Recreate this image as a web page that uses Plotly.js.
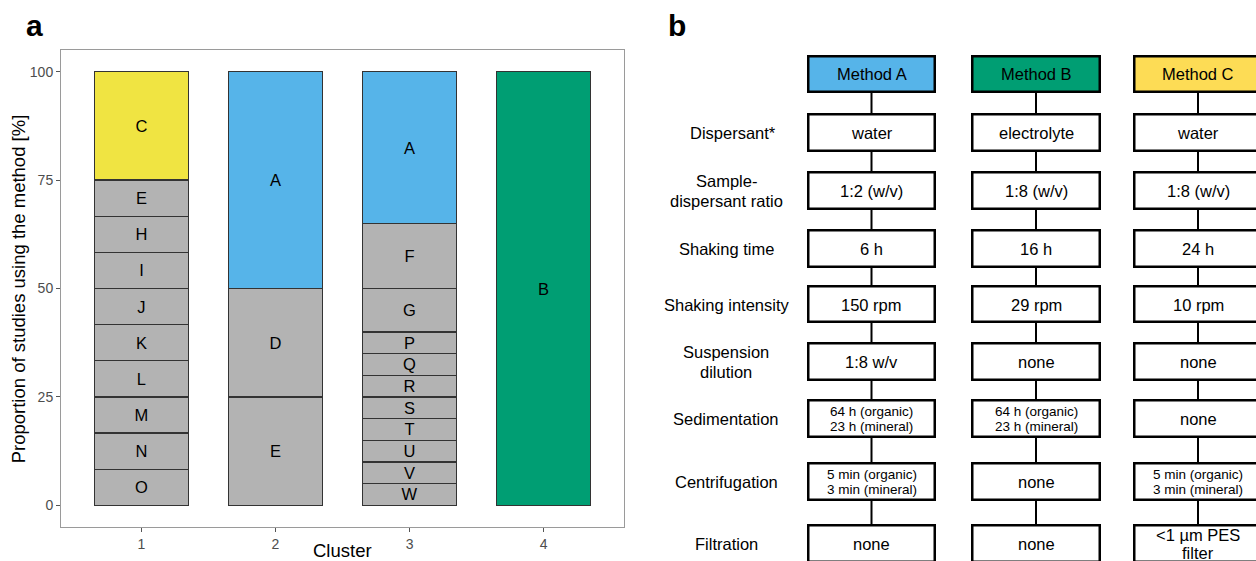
<!DOCTYPE html>
<html>
<head>
<meta charset="utf-8">
<script src="https://cdn.plot.ly/plotly-3.0.1.min.js"></script>
<style>html,body{margin:0;padding:0;background:#fff;}#chart{width:1256px;height:561px;}</style>
</head>
<body>
<div id="chart"></div>
<script>
// ---------- Panel a data ----------
const clusterIds = [1, 2, 3, 4];
const yTickValues = [0, 25, 50, 75, 100];
const xAxisTitle = 'Cluster';
const yAxisTitle = 'Proportion of studies using the method [%]';
// stacked from bottom to top
const cluster1Methods = ['O', 'N', 'M', 'L', 'K', 'J', 'I', 'H', 'E', 'C'];
const cluster1Shares  = [8.333, 8.333, 8.333, 8.333, 8.333, 8.333, 8.333, 8.333, 8.333, 25];
const cluster2Methods = ['E', 'D', 'A'];
const cluster2Shares  = [25, 25, 50];
const cluster3Methods = ['W', 'V', 'U', 'T', 'S', 'R', 'Q', 'P', 'G', 'F', 'A'];
const cluster3Shares  = [5, 5, 5, 5, 5, 5, 5, 5, 10, 15, 35];
const cluster4Methods = ['B'];
const cluster4Shares  = [100];

// ---------- Panel b data ----------
const methodNames = ['Method A', 'Method B', 'Method C'];
const stepLabels = ['Dispersant*', 'Sample-<br>dispersant ratio', 'Shaking time', 'Shaking intensity',
                    'Suspension<br>dilution', 'Sedimentation', 'Centrifugation', 'Filtration'];
const methodASteps = ['water', '1:2 (w/v)', '6 h', '150 rpm', '1:8 w/v',
                      '64 h (organic)<br>23 h (mineral)', '5 min (organic)<br>3 min (mineral)', 'none'];
const methodBSteps = ['electrolyte', '1:8 (w/v)', '16 h', '29 rpm', 'none',
                      '64 h (organic)<br>23 h (mineral)', 'none', 'none'];
const methodCSteps = ['water', '1:8 (w/v)', '24 h', '10 rpm', 'none', 'none',
                      '5 min (organic)<br>3 min (mineral)', '<1 µm PES<br>filter'];

// ---------- styles ----------
const FONT = 'Liberation Sans, Arial, sans-serif';
const barColors = {A: '#56B4E9', B: '#009E73', C: '#F0E442'};
const headerColors = ['#56B4E9', '#009E73', '#FDDC55'];
const otherColor = '#B3B3B3';
function colorFor(m) { return barColors[m] || otherColor; }

// plot area in pixels
const L = 61, T = 50, W = 563, H = 477;
const FW = 1256, FH = 561;
const px2x = px => (px - L) / W;
const py2y = py => (T + H - py) / H;

// ---------- bar traces ----------
const clusterSets = [
  [clusterIds[0], cluster1Methods, cluster1Shares],
  [clusterIds[1], cluster2Methods, cluster2Shares],
  [clusterIds[2], cluster3Methods, cluster3Shares],
  [clusterIds[3], cluster4Methods, cluster4Shares]
];
const traces = [];
clusterSets.forEach(([cx, methods, shares]) => {
  methods.forEach((m, i) => {
    traces.push({
      type: 'bar', x: [cx], y: [shares[i]], text: [m], width: 0.7,
      marker: {color: colorFor(m), line: {color: '#333333', width: 1.3}},
      textposition: 'inside', insidetextanchor: 'middle', textangle: 0,
      constraintext: 'none',
      insidetextfont: {family: FONT, size: 16.5, color: '#000000'},
      hoverinfo: 'skip'
    });
  });
});

// ---------- flowchart geometry (pixels) ----------
const colEdges = [[807, 936], [971, 1101], [1133, 1263]];
const headerRow = [55, 93];
const stepRows = [[113, 152], [171, 210], [229, 268], [285, 323], [342, 381], [399, 438], [462, 501], [524, 563]];
const labelX = 726;
const BW = 2.5;

const shapes = [];
const annotations = [];

function addText(text, cx, cy, size, spacing, extra) {
  const lines = text.split('<br>');
  const n = lines.length;
  lines.forEach((ln, k) => {
    const y = cy + (k - (n - 1) / 2) * spacing;
    annotations.push(Object.assign({
      text: ln, xref: 'paper', yref: 'paper', x: px2x(cx), y: py2y(y),
      xanchor: 'center', yanchor: 'middle', showarrow: false,
      font: {family: FONT, size: size, color: '#000000'}
    }, extra || {}));
  });
}

const allSteps = [methodASteps, methodBSteps, methodCSteps];
colEdges.forEach(([x0, x1], c) => {
  const cx = (x0 + x1) / 2;
  shapes.push({type: 'line', xref: 'paper', yref: 'paper',
    x0: px2x(cx), x1: px2x(cx), y0: py2y(headerRow[1]), y1: py2y(stepRows[stepRows.length - 1][0]),
    line: {color: '#000000', width: 2}});
  shapes.push({type: 'rect', xref: 'paper', yref: 'paper',
    x0: px2x(x0 + BW / 2), x1: px2x(x1 - BW / 2), y0: py2y(headerRow[0] + BW / 2), y1: py2y(headerRow[1] - BW / 2),
    fillcolor: headerColors[c], line: {color: '#000000', width: BW}});
  addText(methodNames[c], cx, (headerRow[0] + headerRow[1]) / 2 + 0.5, 16.5, 19);
  stepRows.forEach(([y0, y1], r) => {
    shapes.push({type: 'rect', xref: 'paper', yref: 'paper',
      x0: px2x(x0 + BW / 2), x1: px2x(x1 - BW / 2), y0: py2y(y0 + BW / 2), y1: py2y(y1 - BW / 2),
      fillcolor: '#FFFFFF', line: {color: '#000000', width: BW}});
    const t = allSteps[c][r];
    const small = t.indexOf('organic') >= 0;
    addText(t, cx, (y0 + y1) / 2 + 0.5, small ? 13.5 : 16.5, small ? 15.7 : 18);
  });
});

stepRows.forEach(([y0, y1], r) => {
  const lx = r === 0 ? labelX + 7 : labelX;
  addText(stepLabels[r], lx, (y0 + y1) / 2 + 0.5, 16.5, 19.5);
});

// axis titles (placed precisely)
addText(xAxisTitle, L + W / 2, 550.5, 18.5, 0);
addText(yAxisTitle, 18.8, T + H / 2, 18.5, 0, {textangle: -90});

// panel letters
addText('<b>a</b>', 34.5, 25, 30, 0);
addText('<b>b</b>', 677, 25, 30, 0);

const layout = {
  width: FW, height: FH,
  margin: {l: L, r: FW - L - W, t: T, b: FH - T - H, pad: 0},
  paper_bgcolor: '#FFFFFF', plot_bgcolor: '#FFFFFF',
  barmode: 'stack', bargap: 0.3, showlegend: false, hovermode: false,
  font: {family: FONT, color: '#000000'},
  xaxis: {
    range: [0.4, 4.6], tickvals: clusterIds, ticktext: clusterIds.map(String),
    showgrid: false, zeroline: false, showline: true, mirror: true,
    linecolor: '#9a9a9a', linewidth: 1,
    ticks: 'outside', ticklen: 4, tickwidth: 1, tickcolor: '#555555',
    tickfont: {family: FONT, size: 14, color: '#4d4d4d'},
    fixedrange: true, automargin: false
  },
  yaxis: {
    range: [-5, 105], tickvals: yTickValues, ticktext: yTickValues.map(String),
    showgrid: false, zeroline: false, showline: true, mirror: true,
    linecolor: '#9a9a9a', linewidth: 1,
    ticks: 'outside', ticklen: 4, tickwidth: 1, tickcolor: '#555555',
    tickfont: {family: FONT, size: 14, color: '#4d4d4d'},
    fixedrange: true, automargin: false
  },
  shapes: shapes,
  annotations: annotations
};

Plotly.newPlot('chart', traces, layout, {displayModeBar: false, staticPlot: true});
</script>
</body>
</html>
